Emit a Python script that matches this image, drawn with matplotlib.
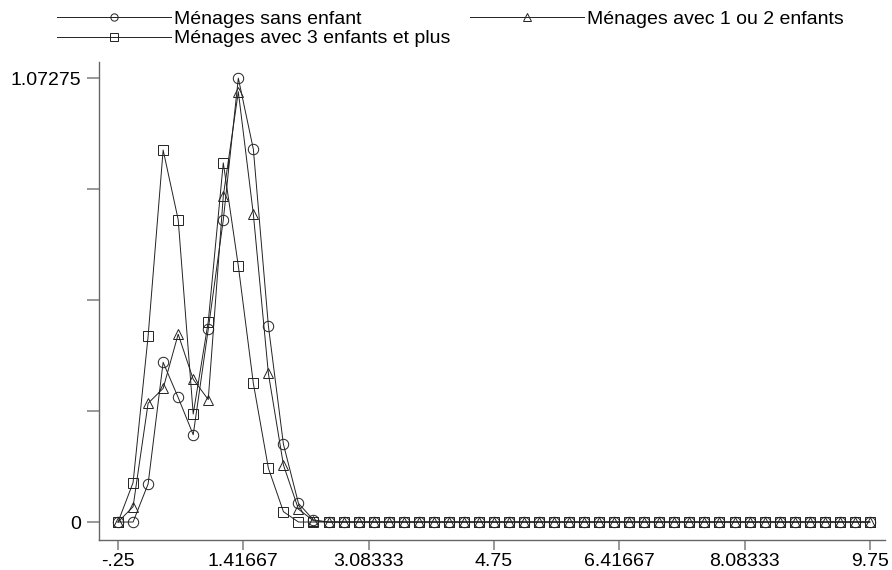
import numpy as np
import matplotlib
matplotlib.use("Agg")
import matplotlib.pyplot as plt

plt.rcParams['font.family'] = ['Liberation Sans', 'DejaVu Sans']

# grid of income points (51 points, step 0.2)
x = np.linspace(-0.25, 9.75, 51)

sans_enfant = [0.0, 0.0, 0.092, 0.386, 0.301, 0.211, 0.466, 0.730, 1.07275, 0.901,
               0.474, 0.188, 0.045, 0.005, 0, 0, 0, 0, 0, 0,
               0, 0, 0, 0, 0, 0, 0, 0, 0, 0,
               0, 0, 0, 0, 0, 0, 0, 0, 0, 0,
               0, 0, 0, 0, 0, 0, 0, 0, 0, 0, 0]
un_deux = [0.0, 0.037, 0.287, 0.323, 0.454, 0.345, 0.296, 0.788, 1.040, 0.744,
           0.359, 0.138, 0.031, 0.003, 0, 0, 0, 0, 0, 0,
           0, 0, 0, 0, 0, 0, 0, 0, 0, 0,
           0, 0, 0, 0, 0, 0, 0, 0, 0, 0,
           0, 0, 0, 0, 0, 0, 0, 0, 0, 0, 0]
trois_plus = [0.0, 0.095, 0.449, 0.899, 0.731, 0.261, 0.484, 0.868, 0.619, 0.335,
              0.130, 0.025, 0.0, 0.0, 0, 0, 0, 0, 0, 0,
              0, 0, 0, 0, 0, 0, 0, 0, 0, 0,
              0, 0, 0, 0, 0, 0, 0, 0, 0, 0,
              0, 0, 0, 0, 0, 0, 0, 0, 0, 0, 0]

labels = ["Ménages sans enfant", "Ménages avec 1 ou 2 enfants",
          "Ménages avec 3 enfants et plus"]
xticks = [-0.25, 1.41667, 3.08333, 4.75, 6.41667, 8.08333, 9.75]
xticklabels = ["-.25", "1.41667", "3.08333", "4.75", "6.41667", "8.08333", "9.75"]
ymax = 1.07275

fig = plt.figure(figsize=(8.92, 5.70), dpi=100)
ax = fig.add_axes([0.111, 0.0526, 0.881, 0.838])

lc = "#222222"
common = dict(color=lc, lw=0.7, markerfacecolor="none", markeredgecolor=lc,
              markeredgewidth=0.7)
ax.plot(x, sans_enfant, marker="o", ms=7.5, label=labels[0], **common)
ax.plot(x, un_deux, marker="^", ms=7.5, label=labels[1], **common)
ax.plot(x, trois_plus, marker="s", ms=7.5, label=labels[2], **common)

ax.set_xlim(-0.503, 9.95)
ax.set_ylim(-0.0435, 1.111)
ax.set_xticks(xticks)
ax.set_xticklabels(xticklabels)
ax.set_yticks([0, ymax / 4, ymax / 2, 3 * ymax / 4, ymax])
ax.set_yticklabels(["0", "", "", "", "1.07275"])

for s in ["top", "right"]:
    ax.spines[s].set_visible(False)
for s in ["left", "bottom"]:
    ax.spines[s].set_color("#666666")
    ax.spines[s].set_linewidth(1.0)
ax.tick_params(colors="#888888", labelcolor="black", labelsize=14, width=1.2)
ax.tick_params(axis="y", length=9, pad=4)
ax.tick_params(axis="x", length=7, pad=2)

handles, labs = ax.get_legend_handles_labels()
order = [0, 2, 1]
fig.legend([handles[i] for i in order], [labs[i] for i in order],
           loc="upper left", bbox_to_anchor=(0.0515, 1.0), ncol=2,
           frameon=False, fontsize=14, handlelength=5.87, handletextpad=0.15,
           columnspacing=1.0, labelspacing=0.08, borderpad=0.05,
           markerscale=0.7)

fig.savefig("out.png", dpi=100)
